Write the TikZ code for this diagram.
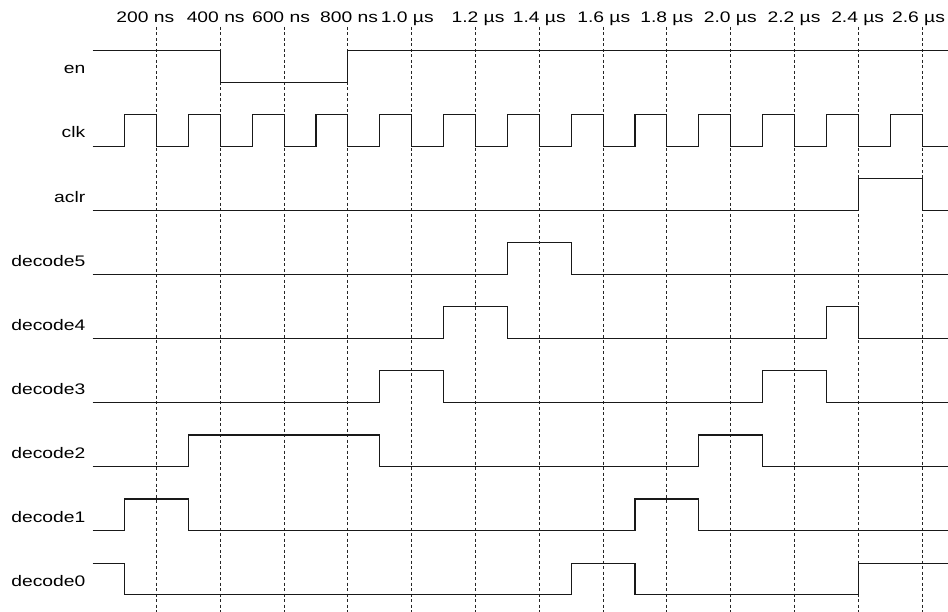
\documentclass[tikz,border=0pt]{standalone}
\usepackage{fontspec}
\setmainfont{Liberation Sans}[FakeStretch=1.26]
\begin{document}
\begin{tikzpicture}[x=1pt,y=-1pt,
  wave/.style={line width=1.05pt,black!90,line join=miter},
  gridline/.style={line width=0.9pt,black!85,dash pattern=on 3pt off 2.5pt},
  siglabel/.style={anchor=base east,inner sep=0pt,font=\fontsize{15.3}{18}\selectfont},
  timelabel/.style={anchor=base,inner sep=0pt,font=\fontsize{15.3}{18}\selectfont}]
\useasboundingbox[fill=white] (0,0) rectangle (948,612);
% time labels
\node[timelabel] (t2)  at (145.3,22.5) {200 ns};
\node[timelabel] (t4)  at (215.7,22.5) {400 ns};
\node[timelabel] (t6)  at (281.0,22.5) {600 ns};
\node[timelabel] (t8)  at (349.0,22.5) {800 ns};
\node[timelabel] (t10) at (407.3,22.5) {1.0 µs};
\node[timelabel] (t12) at (478.0,22.5) {1.2 µs};
\node[timelabel] (t14) at (539.3,22.5) {1.4 µs};
\node[timelabel] (t16) at (603.8,22.5) {1.6 µs};
\node[timelabel] (t18) at (666.8,22.5) {1.8 µs};
\node[timelabel] (t20) at (730.3,22.5) {2.0 µs};
\node[timelabel] (t22) at (794.0,22.5) {2.2 µs};
\node[timelabel] (t24) at (857.7,22.5) {2.4 µs};
\node[timelabel] (t26) at (918.5,22.5) {2.6 µs};
% signal labels
\node[siglabel] (len)  at (85.5,74.0)  {en};
\node[siglabel] (lclk) at (85.5,138.0) {clk};
\node[siglabel] (lacl) at (85.5,202.1) {aclr};
\node[siglabel] (ld5)  at (85.5,266.1) {decode5};
\node[siglabel] (ld4)  at (85.5,330.2) {decode4};
\node[siglabel] (ld3)  at (85.5,394.2) {decode3};
\node[siglabel] (ld2)  at (85.5,458.3) {decode2};
\node[siglabel] (ld1)  at (85.5,522.3) {decode1};
\node[siglabel] (ld0)  at (85.5,586.4) {decode0};
\begin{scope}[xshift=92.7pt,x=31.9pt]
  % grid
  \foreach \t in {2,4,...,26} \draw[gridline] (\t,27) -- (\t,612);
  % en
  \draw[wave] (0,50.7) -- (4,50.7) -- (4,82.5) -- (8,82.5) -- (8,50.7) -- (26.9,50.7);
  % clk
  \draw[wave] (0,146.5) \foreach \k in {1,3,...,25} { -- (\k,146.5) -- (\k,114.7) -- (\k+1,114.7) -- (\k+1,146.5) } -- (26.9,146.5);
  % aclr
  \draw[wave] (0,210.6) -- (24,210.6) -- (24,178.8) -- (26,178.8) -- (26,210.6) -- (26.9,210.6);
  % decode5
  \draw[wave] (0,274.6) -- (13,274.6) -- (13,242.8) -- (15,242.8) -- (15,274.6) -- (26.9,274.6);
  % decode4
  \draw[wave] (0,338.7) -- (11,338.7) -- (11,306.9) -- (13,306.9) -- (13,338.7) -- (23,338.7) -- (23,306.9) -- (24,306.9) -- (24,338.7) -- (26.9,338.7);
  % decode3
  \draw[wave] (0,402.7) -- (9,402.7) -- (9,370.9) -- (11,370.9) -- (11,402.7) -- (21,402.7) -- (21,370.9) -- (23,370.9) -- (23,402.7) -- (26.9,402.7);
  % decode2
  \draw[wave] (0,466.8) -- (3,466.8) -- (3,435.0) -- (9,435.0) -- (9,466.8) -- (19,466.8) -- (19,435.0) -- (21,435.0) -- (21,466.8) -- (26.9,466.8);
  % decode1
  \draw[wave] (0,530.8) -- (1,530.8) -- (1,499.0) -- (3,499.0) -- (3,530.8) -- (17,530.8) -- (17,499.0) -- (19,499.0) -- (19,530.8) -- (26.9,530.8);
  % decode0
  \draw[wave] (0,563.1) -- (1,563.1) -- (1,594.9) -- (15,594.9) -- (15,563.1) -- (17,563.1) -- (17,594.9) -- (24,594.9) -- (24,563.1) -- (26.9,563.1);
\end{scope}
\end{tikzpicture}
\end{document}
